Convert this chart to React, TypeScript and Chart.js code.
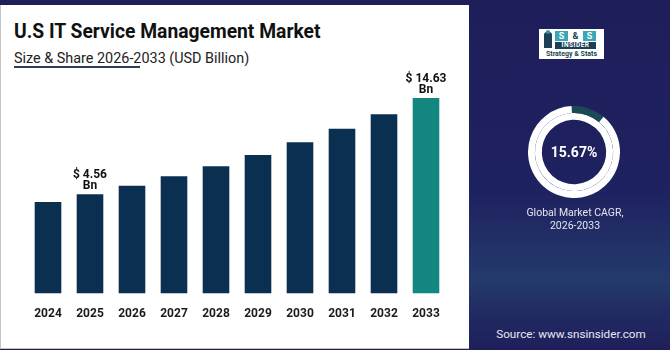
import React, { useEffect, useRef } from "react";
import { Chart, registerables } from "chart.js";

Chart.register(...registerables);

const years = ["2024", "2025", "2026", "2027", "2028", "2029", "2030", "2031", "2032", "2033"];
const marketValues = [3.76, 4.56, 5.45, 6.45, 7.5, 8.69, 10.02, 11.42, 12.94, 14.63];
const valueLabels = ["", "$ 4.56", "", "", "", "", "", "", "", "$ 14.63"];
const cagrValue = 15.67;
const cagrArc = [43, 317];

const BAR_DARK = "#0b2f50";
const BAR_TEAL = "#138680";
const AXIS_MIN = -5.82;
const AXIS_MAX = 16;

const labelPlugin = {
  id: "valueLabels",
  afterDatasetsDraw(chart: any) {
    const ctx = chart.ctx;
    const meta = chart.getDatasetMeta(0);
    ctx.save();
    ctx.fillStyle = "#111111";
    ctx.font = "bold 12px Roboto";
    ctx.textAlign = "center";
    ctx.textBaseline = "alphabetic";
    meta.data.forEach((bar: any, i: number) => {
      const t = valueLabels[i];
      if (!t) return;
      ctx.fillText("Bn", bar.x, bar.y - 5);
      ctx.fillText(t, bar.x, bar.y - 16);
    });
    ctx.restore();
  },
};

function BarChart() {
  const ref = useRef<HTMLCanvasElement>(null);
  useEffect(() => {
    if (!ref.current) return;
    const chart = new Chart(ref.current, {
      type: "bar",
      data: {
        labels: years,
        datasets: [
          {
            data: marketValues,
            base: AXIS_MIN,
            backgroundColor: years.map((_, i) => (i === years.length - 1 ? BAR_TEAL : BAR_DARK)),
            borderWidth: 0,
            barPercentage: 0.72,
            categoryPercentage: 0.88,
          } as any,
        ],
      },
      options: {
        responsive: false,
        animation: false,
        layout: { padding: { left: 27, right: 22, top: 85, bottom: 15 } },
        plugins: { legend: { display: false }, tooltip: { enabled: false } },
        scales: {
          x: {
            grid: { display: false, drawTicks: false },
            border: { display: false },
            ticks: { color: "#1a1a1a", font: { family: "Roboto", size: 12, weight: "bold" }, padding: 13 },
          },
          y: { display: false, min: AXIS_MIN, max: AXIS_MAX },
        },
      },
      plugins: [labelPlugin],
    });
    return () => chart.destroy();
  }, []);
  return (
    <canvas
      ref={ref}
      width={469}
      height={349}
      style={{ position: "absolute", left: 0, top: 0, width: 469, height: 349 }}
    />
  );
}

function CagrRing() {
  const ref = useRef<HTMLCanvasElement>(null);
  useEffect(() => {
    if (!ref.current) return;
    const chart = new Chart(ref.current, {
      type: "doughnut",
      data: {
        labels: ["CAGR", "Rest"],
        datasets: [
          { data: cagrArc, backgroundColor: ["#1a4a55", "#ffffff"], borderWidth: 0, weight: 1 } as any,
          { data: [100], backgroundColor: ["#ffffff"], borderWidth: 0, weight: 1 } as any,
        ],
      },
      options: {
        responsive: false,
        animation: false,
        cutout: "70%",
        rotation: -3,
        plugins: { legend: { display: false }, tooltip: { enabled: false } },
      },
    });
    return () => chart.destroy();
  }, []);
  return (
    <canvas
      ref={ref}
      width={92}
      height={92}
      style={{ position: "absolute", left: 528, top: 106, width: 92, height: 92 }}
    />
  );
}

export default function App() {
  return (
    <div
      style={{
        position: "fixed",
        left: 0,
        top: 0,
        width: 670,
        height: 350,
        overflow: "hidden",
        fontFamily: "Roboto, sans-serif",
        background:
          "linear-gradient(180deg, #1e1e5a 0%, #1f2260 55%, #243a6c 80%, #212a62 90%, #1f1f5a 100%)",
      }}
    >
      <div
        style={{
          position: "absolute",
          left: 0,
          top: 5,
          width: 468,
          height: 343,
          background: "#ffffff",
          borderLeft: "1px solid #c4c4c4",
          borderBottom: "1px solid #c4c4c4",
        }}
      />
      <div
        style={{
          position: "absolute",
          left: 14,
          top: 22,
          fontSize: 19.3,
          lineHeight: "19px",
          fontWeight: 700,
          color: "#111111",
          whiteSpace: "nowrap",
        }}
      >
        U.S IT Service Management Market
      </div>
      <div
        style={{
          position: "absolute",
          left: 14,
          top: 50.5,
          fontSize: 14.4,
          lineHeight: "15px",
          color: "#222222",
          whiteSpace: "nowrap",
        }}
      >
        Size &amp; Share 2026-2033 (USD Billion)
      </div>
      <div style={{ position: "absolute", left: 14, top: 66, width: 126, height: 2, background: "#2a3f5f" }} />
      <BarChart />

      {/* logo */}
      <div
        style={{
          position: "absolute",
          left: 539,
          top: 29,
          width: 65,
          height: 30,
          background: "#ffffff",
        }}
      >
        <div style={{ position: "absolute", left: 5, top: 3, width: 8, height: 16, background: "#1c3f55", borderRadius: "3px 3px 0 0" }} />
        <div style={{ position: "absolute", left: 7, top: 1, width: 4, height: 4, background: "#2a9aa6", borderRadius: 2 }} />
        <div style={{ position: "absolute", left: 16, top: 2, width: 13, height: 10, background: "#38a6b4", color: "#ffffff", fontSize: 9, lineHeight: "10px", fontWeight: 700, textAlign: "center" }}>S</div>
        <div style={{ position: "absolute", left: 30, top: 2, width: 13, height: 10, color: "#1c3f55", fontSize: 9, lineHeight: "10px", fontWeight: 700, textAlign: "center" }}>&amp;</div>
        <div style={{ position: "absolute", left: 44, top: 2, width: 13, height: 10, background: "#38a6b4", color: "#ffffff", fontSize: 9, lineHeight: "10px", fontWeight: 700, textAlign: "center" }}>S</div>
        <div style={{ position: "absolute", left: 16, top: 13, width: 41, height: 7, background: "#1c3f55", color: "#ffffff", fontSize: 6.5, lineHeight: "7px", fontWeight: 700, textAlign: "center", letterSpacing: 0.5 }}>INSIDER</div>
        <div style={{ position: "absolute", left: 0, top: 21, width: 65, color: "#1c3f55", fontSize: 7, lineHeight: "8px", fontWeight: 700, textAlign: "center", whiteSpace: "nowrap" }}>Strategy &amp; Stats</div>
      </div>

      <CagrRing />
      <div
        style={{
          position: "absolute",
          left: 524,
          top: 143,
          width: 100,
          textAlign: "center",
          color: "#ffffff",
          fontSize: 14,
          lineHeight: "18px",
          fontWeight: 700,
        }}
      >
        {cagrValue.toFixed(2)}%
      </div>
      <div
        style={{
          position: "absolute",
          left: 505,
          top: 206,
          width: 140,
          textAlign: "center",
          color: "#e4e4f0",
          fontSize: 10.5,
          lineHeight: "13px",
        }}
      >
        Global Market CAGR,
        <br />
        2026-2033
      </div>
      <div
        style={{
          position: "absolute",
          left: 490,
          top: 327,
          width: 162,
          textAlign: "center",
          color: "#e8e8f2",
          fontSize: 11.7,
          lineHeight: "14px",
          whiteSpace: "nowrap",
        }}
      >
        Source: www.snsinsider.com
      </div>
    </div>
  );
}
